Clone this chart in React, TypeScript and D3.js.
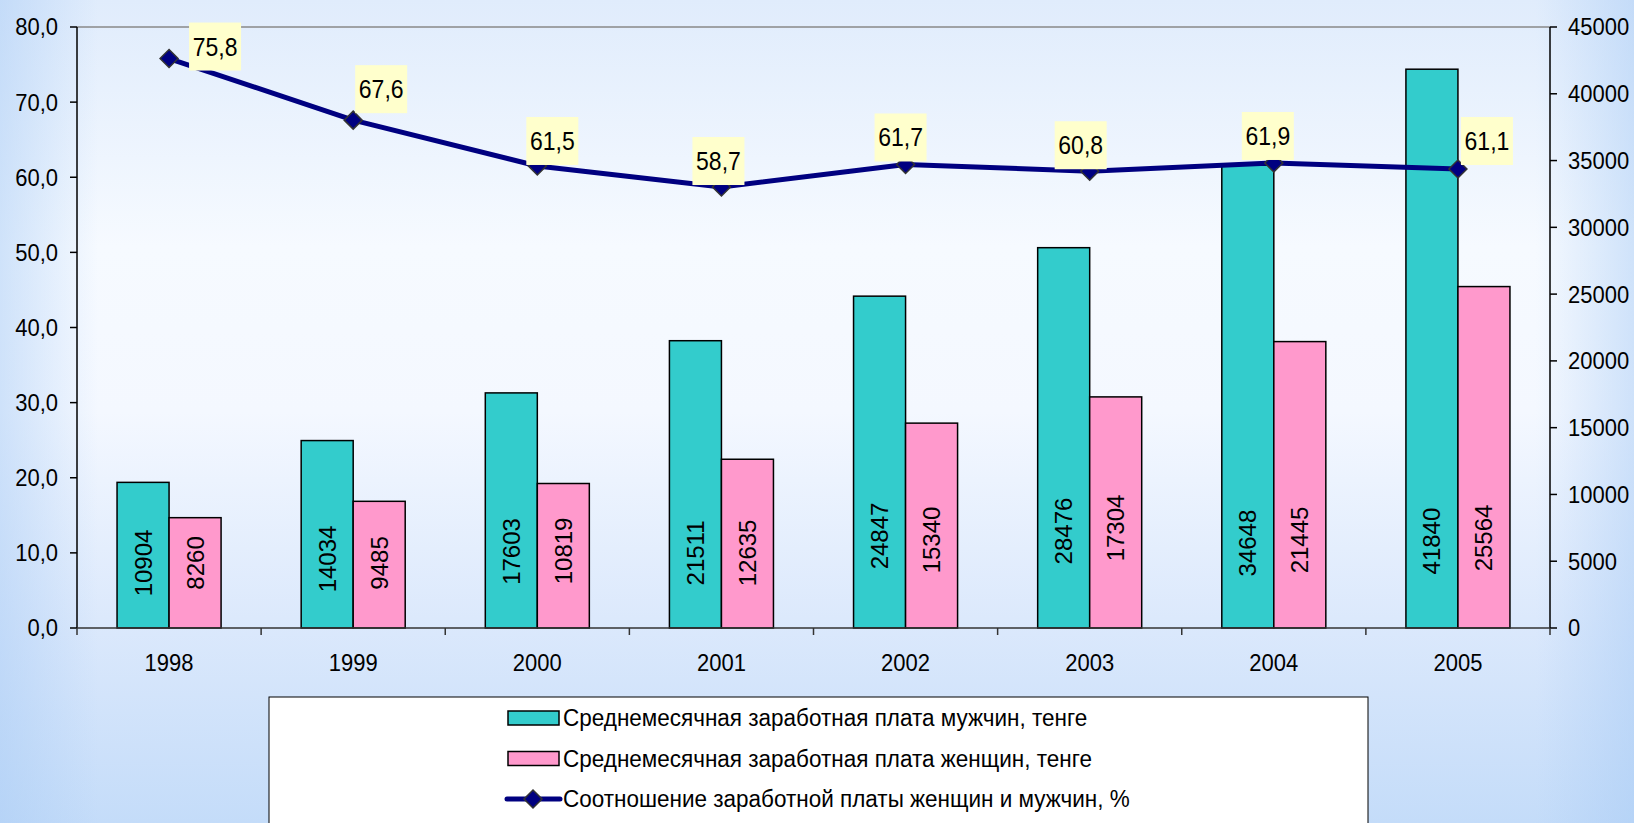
import React from 'react';
import * as d3 from 'd3';

const years = ['1998', '1999', '2000', '2001', '2002', '2003', '2004', '2005'];
const menWage = [10904, 14034, 17603, 21511, 24847, 28476, 34648, 41840];
const womenWage = [8260, 9485, 10819, 12635, 15340, 17304, 21445, 25564];
const ratio = [75.8, 67.6, 61.5, 58.7, 61.7, 60.8, 61.9, 61.1];
const leftTicks = [0, 10, 20, 30, 40, 50, 60, 70, 80];
const rightTicks = [0, 5000, 10000, 15000, 20000, 25000, 30000, 35000, 40000, 45000];
const seriesNames = [
  'Среднемесячная заработная плата мужчин, тенге',
  'Среднемесячная заработная плата женщин, тенге',
  'Соотношение заработной платы женщин и мужчин, %',
];

// label placement styling (pixel offsets / label anchor levels in right-axis units)
const ratioLabelOffsets: [number, number][] = [
  [46, -12], [28, -31], [15, -25], [-3, -26], [-5, -27], [-9, -26], [-6, -27], [29, -28],
];
const menLabelLevel = [4870, 5170, 5730, 5620, 6890, 7260, 6360, 6510];
const womenLabelLevel = [4870, 4870, 5770, 5620, 6590, 7490, 6590, 6740];

const W = 1634;
const H = 823;
const L = 77, R = 1550, T = 27, B = 628;
const FONT = '"Liberation Sans", Arial, sans-serif';
const TEAL = '#33CCCC';
const PINK = '#FF99CC';
const NAVY = '#000080';
const SY = 1.12;

const fmtL = (v: number) => d3.format('.1f')(v).replace('.', ',');

function Txt(props: { x: number; y: number; size: number; anchor?: string; children: React.ReactNode; sy?: number }) {
  const { x, y, size, anchor = 'start', children, sy = SY } = props;
  return (
    <text transform={`translate(${x},${y}) scale(1,${sy})`} textAnchor={anchor} dominantBaseline="central" fontSize={size} fill="#000">
      {children}
    </text>
  );
}

export default function App() {
  const x = d3.scaleBand<string>().domain(years).range([L, R]).padding(0);
  const inner = d3.scaleBand<string>().domain(['m', 'w']).range([0, x.bandwidth()]).paddingInner(0).paddingOuter(0.77);
  const yL = d3.scaleLinear().domain([0, 80]).range([B, T]);
  const yR = d3.scaleLinear().domain([0, 45000]).range([B, T]);
  const cx = (y: string) => (x(y) as number) + x.bandwidth() / 2;
  const bw = inner.bandwidth();

  const line = d3.line<number>().x((_, i) => cx(years[i])).y((d) => yL(d));
  const diamond = (s: number) => `M0,${-s}L${s},0L0,${s}L${-s},0Z`;

  return (
    <svg width={W} height={H} style={{ position: 'absolute', left: 0, top: 0 }} fontFamily={FONT}>
      <defs>
        <linearGradient id="bg" x1="0" y1="0" x2="0" y2="1">
          <stop offset="0" stopColor="#E0ECFC" />
          <stop offset="0.3" stopColor="#F6FAFF" />
          <stop offset="0.5" stopColor="#F4F8FF" />
          <stop offset="0.75" stopColor="#DCE9FC" />
          <stop offset="1" stopColor="#C4DCF9" />
        </linearGradient>
        <linearGradient id="bgx" x1="0" y1="0" x2="1" y2="0">
          <stop offset="0" stopColor="#A8CBF5" stopOpacity="0.5" />
          <stop offset="0.06" stopColor="#A8CBF5" stopOpacity="0" />
          <stop offset="0.94" stopColor="#A8CBF5" stopOpacity="0" />
          <stop offset="1" stopColor="#A8CBF5" stopOpacity="0.5" />
        </linearGradient>
      </defs>
      <rect x={0} y={0} width={W} height={H} fill="url(#bg)" />
      <rect x={0} y={0} width={W} height={H} fill="url(#bgx)" />

      {/* plot top border */}
      <line x1={L} x2={R} y1={T} y2={T} stroke="#888" strokeWidth={1.5} />

      {/* bars */}
      {years.map((yr, i) => {
        const x0 = (x(yr) as number);
        const xm = x0 + (inner('m') as number);
        const xw = x0 + (inner('w') as number);
        return (
          <g key={yr}>
            <rect x={xm} y={yR(menWage[i])} width={bw} height={B - yR(menWage[i])} fill={TEAL} stroke="#000" strokeWidth={1.5} />
            <rect x={xw} y={yR(womenWage[i])} width={bw} height={B - yR(womenWage[i])} fill={PINK} stroke="#000" strokeWidth={1.5} />
            <text transform={`translate(${xm + bw / 2},${yR(menLabelLevel[i])}) rotate(-90)`} textAnchor="middle" dominantBaseline="central" fontSize={24} fill="#000">{menWage[i]}</text>
            <text transform={`translate(${xw + bw / 2},${yR(womenLabelLevel[i])}) rotate(-90)`} textAnchor="middle" dominantBaseline="central" fontSize={24} fill="#000">{womenWage[i]}</text>
          </g>
        );
      })}

      {/* axes */}
      <line x1={L} x2={L} y1={T} y2={B} stroke="#000" strokeWidth={1.5} />
      <line x1={R} x2={R} y1={T} y2={B} stroke="#000" strokeWidth={1.5} />
      <line x1={L} x2={R} y1={B} y2={B} stroke="#333" strokeWidth={1.5} />
      {leftTicks.map((t) => (
        <g key={'l' + t}>
          <line x1={L - 7} x2={L} y1={yL(t)} y2={yL(t)} stroke="#000" strokeWidth={1.5} />
          <Txt x={58} y={yL(t)} size={22} anchor="end">{fmtL(t)}</Txt>
        </g>
      ))}
      {rightTicks.map((t) => (
        <g key={'r' + t}>
          <line x1={R} x2={R + 7} y1={yR(t)} y2={yR(t)} stroke="#000" strokeWidth={1.5} />
          <Txt x={1568} y={yR(t)} size={22}>{t}</Txt>
        </g>
      ))}
      {years.map((yr) => (
        <line key={'xt' + yr} x1={(x(yr) as number)} x2={(x(yr) as number)} y1={B} y2={B + 7} stroke="#333" strokeWidth={1.5} />
      ))}
      <line x1={R} x2={R} y1={B} y2={B + 7} stroke="#333" strokeWidth={1.5} />
      {years.map((yr) => (
        <Txt key={'xl' + yr} x={cx(yr)} y={663} size={22} anchor="middle">{yr}</Txt>
      ))}

      {/* ratio line */}
      <path d={line(ratio) as string} fill="none" stroke={NAVY} strokeWidth={5} strokeLinejoin="round" />
      {ratio.map((v, i) => (
        <path key={'mk' + i} d={diamond(9)} transform={`translate(${cx(years[i])},${yL(v)})`} fill={NAVY} stroke="#333" strokeWidth={1.5} />
      ))}
      {ratio.map((v, i) => {
        const px = cx(years[i]) + ratioLabelOffsets[i][0];
        const py = yL(v) + ratioLabelOffsets[i][1];
        return (
          <g key={'rl' + i}>
            <rect x={px - 26} y={py - 24} width={52} height={48} fill="#FFFFCC" />
            <Txt x={px} y={py} size={23} anchor="middle">{fmtL(v)}</Txt>
          </g>
        );
      })}

      {/* legend */}
      <rect x={269} y={697} width={1099} height={140} fill="#fff" stroke="#000" strokeWidth={1} />
      {seriesNames.map((name, i) => {
        const ry = 718 + i * 40.5;
        return (
          <g key={'lg' + i}>
            {i < 2 ? (
              <rect x={508} y={ry - 7} width={51} height={14} fill={i === 0 ? TEAL : PINK} stroke="#000" strokeWidth={1.5} />
            ) : (
              <g>
                <line x1={507} x2={560} y1={ry} y2={ry} stroke={NAVY} strokeWidth={5} strokeLinecap="round" />
                <path d={diamond(9)} transform={`translate(533,${ry})`} fill={NAVY} stroke="#333" strokeWidth={1.5} />
              </g>
            )}
            <Txt x={563} y={ry} size={22.5} sy={1.1}>{name}</Txt>
          </g>
        );
      })}
    </svg>
  );
}
